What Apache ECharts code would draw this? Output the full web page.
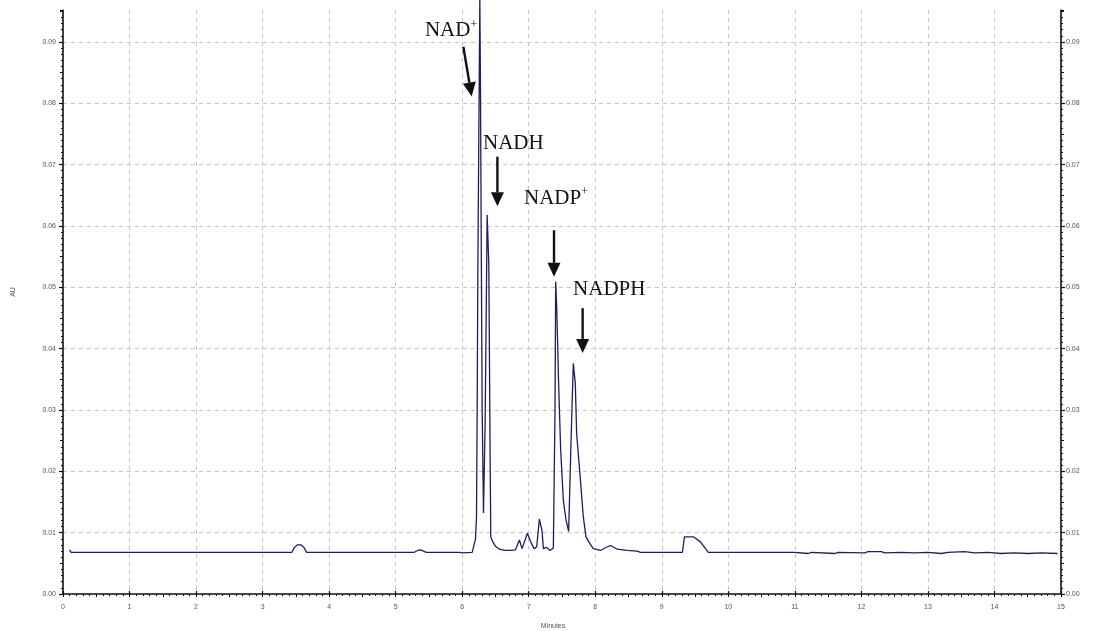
<!DOCTYPE html>
<html>
<head>
<meta charset="utf-8">
<title>HPLC chromatogram – NAD(P)(H)</title>
<script src="https://cdn.jsdelivr.net/npm/echarts@6/dist/echarts.min.js"></script>
<style>
  html, body { margin: 0; padding: 0; background: #ffffff; }
  #chart { width: 1107px; height: 631px; }
</style>
</head>
<body>
<div id="chart"></div>
<script>
// Retention time (min) and detector response (AU) of the chromatogram trace
const times = [
  0.10, 0.12, 3.44, 3.48, 3.52, 3.58, 3.62, 3.66,
  5.28, 5.33, 5.37, 5.42, 5.46,
  5.97, 5.99, 6.01, 6.15, 6.17,
  6.20, 6.215, 6.225, 6.235, 6.25, 6.265, 6.275, 6.285, 6.30, 6.32,
  6.345, 6.375, 6.40, 6.42, 6.43, 6.46, 6.50, 6.56, 6.64, 6.72, 6.80,
  6.86, 6.90, 6.93, 6.98, 7.03, 7.08, 7.12, 7.16, 7.20, 7.22, 7.27, 7.32, 7.37,
  7.385, 7.395, 7.405, 7.42, 7.45, 7.48, 7.52, 7.56, 7.60, 7.62,
  7.635, 7.67, 7.70, 7.72, 7.77, 7.82, 7.86, 7.92, 7.97, 8.08,
  8.18, 8.23, 8.33, 8.48, 8.63, 8.68,
  9.08, 9.10, 9.12, 9.31, 9.34, 9.48, 9.58, 9.70,
  11.00, 11.20, 11.25, 11.60, 11.65, 12.05, 12.10, 12.30, 12.35, 12.60,
  12.80, 13.00, 13.20, 13.30, 13.55, 13.70, 13.90, 14.10, 14.30, 14.50,
  14.70, 14.95
];
const absorbance = [
  0.0072, 0.0068, 0.0068, 0.0076, 0.0080, 0.0080, 0.0076, 0.0068,
  0.0068, 0.0071, 0.0072, 0.0070, 0.0068,
  0.0068, 0.0071, 0.0067, 0.0068, 0.0070,
  0.0090, 0.0125, 0.0300, 0.0525, 0.0750, 0.0970, 0.0820, 0.0600, 0.0300, 0.0132,
  0.0280, 0.0618, 0.0537, 0.0218, 0.0093, 0.0085, 0.0078, 0.0073, 0.0071, 0.0071, 0.0072,
  0.0088, 0.0074, 0.0076, 0.0099, 0.0085, 0.0074, 0.0077, 0.0122, 0.0103, 0.0074, 0.0076, 0.0071, 0.0075,
  0.0078, 0.0300, 0.0509, 0.0470, 0.0340, 0.0235, 0.0153, 0.0121, 0.0102, 0.0100,
  0.0246, 0.0376, 0.0343, 0.0262, 0.0195, 0.0126, 0.0093, 0.0082, 0.0074, 0.0071,
  0.0077, 0.0079, 0.0073, 0.0071, 0.0070, 0.0068,
  0.0068, 0.0070, 0.0068, 0.0068, 0.0093, 0.0093, 0.0085, 0.0068,
  0.0068, 0.0066, 0.0068, 0.0066, 0.0068, 0.0067, 0.0069, 0.0069, 0.0067, 0.0068,
  0.0067, 0.0068, 0.0066, 0.0068, 0.0069, 0.0067, 0.0068, 0.0066, 0.0067, 0.0066,
  0.0067, 0.0066
];

// Peak names (main text + superscript)
const peakNames = ['NAD', 'NADH', 'NADP', 'NADPH'];
const peakCharges = ['+', '', '+', ''];

// Axis ranges
const xRange = [0, 15];
const yRange = [0, 0.0952];

// Where each peak label and its arrow sit, in (minutes, AU)
const labelAt = [[5.44, 0.0918], [6.313, 0.0734], [6.929, 0.0645], [7.666, 0.0496]];
const arrowFrom = [[6.017, 0.0892], [6.529, 0.0713], [7.38, 0.0593], [7.81, 0.0466]];
const arrowTo = [[6.143, 0.0811], [6.529, 0.0632], [7.38, 0.0517], [7.81, 0.0393]];

const trace = times.map((t, i) => [t, absorbance[i]]);

const tickFont = { fontFamily: 'Liberation Sans, Arial, sans-serif', fontSize: 7, color: '#555' };
const axisColor = '#111';
const gridDash = { show: true, lineStyle: { color: '#c4c4c4', type: [4, 4], width: 1 } };

function yAxisSet(position) {
  const onlyHundredths = v => Math.abs(v * 100 - Math.round(v * 100)) < 1e-6 ? v.toFixed(2) : '';
  return [
    {
      type: 'value', position, min: yRange[0], max: yRange[1], interval: 0.01,
      axisLine: { show: true, lineStyle: { color: axisColor, width: 1.6 } },
      axisTick: { show: true, inside: false, length: 4, lineStyle: { color: axisColor, width: 1.2 } },
      axisLabel: Object.assign({ margin: position === 'left' ? 7 : 5, formatter: onlyHundredths, showMaxLabel: false }, tickFont),
      splitLine: position === 'left' ? Object.assign({ showMaxLine: false, showMinLine: false }, gridDash) : { show: false }
    },
    {
      type: 'value', position, min: yRange[0], max: yRange[1], interval: 0.001,
      axisLine: { show: false },
      axisTick: { show: true, inside: false, length: 2, lineStyle: { color: axisColor, width: 1 } },
      axisLabel: { show: false }, splitLine: { show: false }
    },
    {
      type: 'value', position, min: yRange[0], max: yRange[1], interval: 0.005,
      axisLine: { show: false },
      axisTick: { show: true, inside: false, length: 3, lineStyle: { color: axisColor, width: 1 } },
      axisLabel: { show: false }, splitLine: { show: false }
    }
  ];
}

const option = {
  animation: false,
  backgroundColor: '#ffffff',
  grid: { left: 63, right: 46, top: 10, bottom: 37, containLabel: false },
  xAxis: [
    {
      type: 'value', min: xRange[0], max: xRange[1], interval: 1,
      axisLine: { show: true, lineStyle: { color: axisColor, width: 1.6 } },
      axisTick: { show: true, inside: true, length: 3, lineStyle: { color: axisColor, width: 1.2 } },
      axisLabel: Object.assign({ margin: 10 }, tickFont),
      splitLine: Object.assign({ showMinLine: false, showMaxLine: false }, gridDash)
    },
    {
      type: 'value', min: xRange[0], max: xRange[1], interval: 0.1,
      axisLine: { show: false },
      axisTick: { show: true, inside: true, length: 2, lineStyle: { color: axisColor, width: 1 } },
      axisLabel: { show: false }, splitLine: { show: false }
    },
    {
      type: 'value', min: xRange[0], max: xRange[1], interval: 0.5,
      axisLine: { show: false },
      axisTick: { show: true, inside: true, length: 3, lineStyle: { color: axisColor, width: 1 } },
      axisLabel: { show: false }, splitLine: { show: false }
    }
  ],
  yAxis: yAxisSet('left').concat(yAxisSet('right')),
  series: [{
    type: 'line',
    xAxisIndex: 0,
    yAxisIndex: 0,
    data: trace,
    showSymbol: false,
    clip: false,
    lineStyle: { color: '#1e1e5e', width: 1.3 },
    z: 5
  }],
  graphic: [
    {
      type: 'text', x: 13, y: 292, rotation: Math.PI / 2,
      style: { text: 'AU', font: '7px "Liberation Sans", Arial, sans-serif', fill: '#555', align: 'center', verticalAlign: 'middle' }
    },
    {
      type: 'text', x: 553, y: 626,
      style: { text: 'Minutes', font: '7px "Liberation Sans", Arial, sans-serif', fill: '#555', align: 'center', verticalAlign: 'middle' }
    }
  ]
};

const chart = echarts.init(document.getElementById('chart'), null, { renderer: 'canvas' });
chart.setOption(option);

// Peak labels with arrows, placed from data coordinates
const toPx = p => chart.convertToPixel({ xAxisIndex: 0, yAxisIndex: 0 }, p);
const annotations = [];
peakNames.forEach((name, i) => {
  const pos = toPx(labelAt[i]);
  annotations.push({
    type: 'text', x: pos[0], y: pos[1], z: 20,
    style: {
      text: '{m|' + name + '}' + (peakCharges[i] ? '{s|' + peakCharges[i] + '}' : ''),
      align: 'left', verticalAlign: 'middle',
      rich: {
        m: { fontFamily: '"Liberation Serif", "Times New Roman", serif', fontSize: 21, fill: '#111', lineHeight: 24 },
        s: { fontFamily: '"Liberation Serif", "Times New Roman", serif', fontSize: 12, fill: '#111', verticalAlign: 'top', lineHeight: 24 }
      }
    }
  });
  const a = toPx(arrowFrom[i]);
  const b = toPx(arrowTo[i]);
  const dx = b[0] - a[0], dy = b[1] - a[1];
  const len = Math.hypot(dx, dy);
  const ux = dx / len, uy = dy / len;
  const headLen = 14, headHalf = 6.5;
  const base = [b[0] - ux * headLen, b[1] - uy * headLen];
  annotations.push({
    type: 'line', z: 20,
    shape: { x1: a[0], y1: a[1], x2: base[0], y2: base[1] },
    style: { stroke: '#111', lineWidth: 2.4 }
  });
  annotations.push({
    type: 'polygon', z: 20,
    shape: { points: [b, [base[0] - uy * headHalf, base[1] + ux * headHalf], [base[0] + uy * headHalf, base[1] - ux * headHalf]] },
    style: { fill: '#111' }
  });
});
chart.setOption({ graphic: option.graphic.concat(annotations) });
</script>
</body>
</html>
